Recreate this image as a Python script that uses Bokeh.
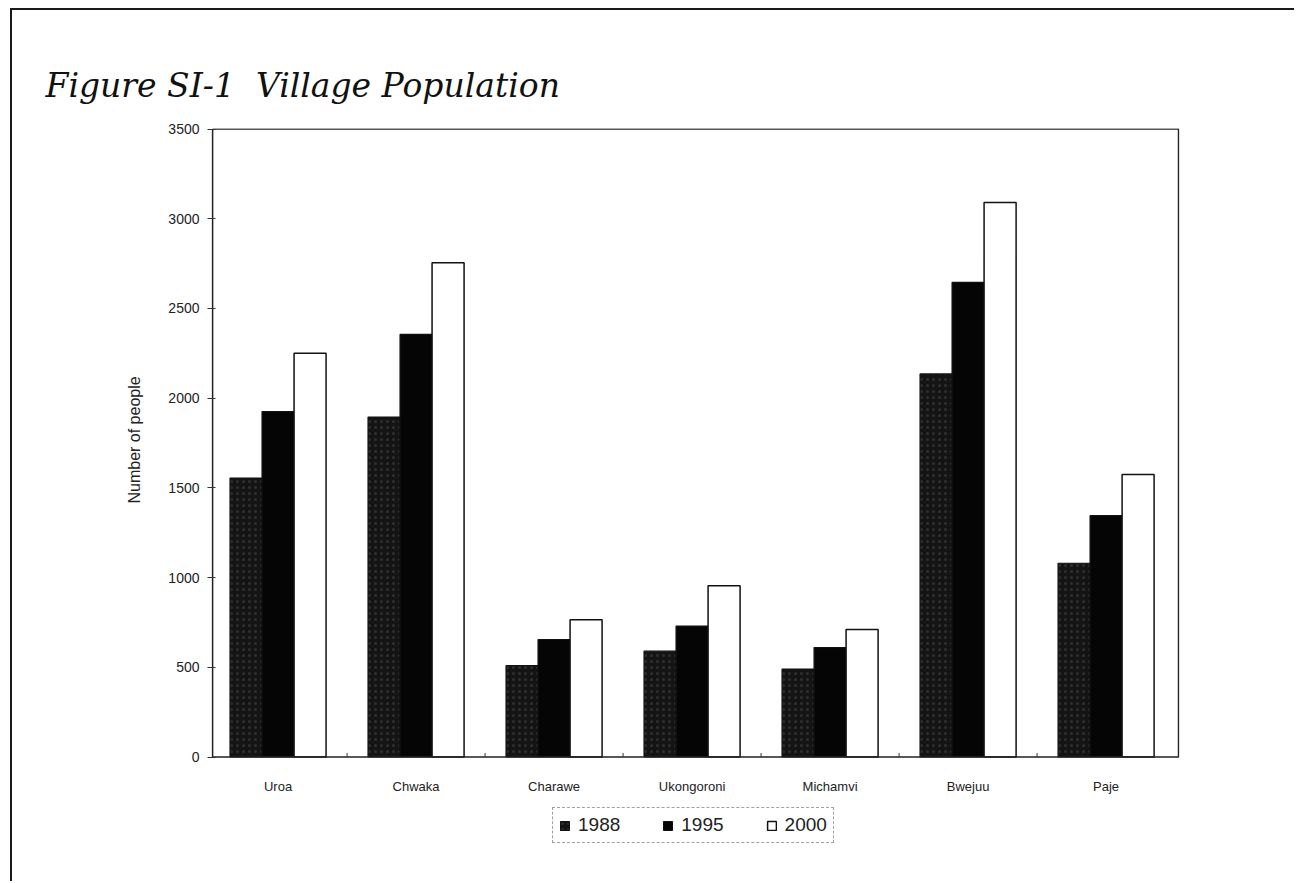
from bokeh.plotting import figure
from bokeh.models import (Range1d, FixedTicker, Legend, LegendItem, ColumnDataSource)
from bokeh.core.properties import value
from bokeh.embed import file_html
from bokeh.resources import INLINE

# Village population counts by survey year
villages = ["Uroa", "Chwaka", "Charawe", "Ukongoroni", "Michamvi", "Bwejuu", "Paje"]
years = ["1988", "1995", "2000"]
pop_1988 = [1555, 1895, 510, 590, 490, 2135, 1080]
pop_1995 = [1925, 2355, 655, 730, 610, 2645, 1345]
pop_2000 = [2250, 2755, 765, 955, 710, 3090, 1575]
y_ticks = [0, 500, 1000, 1500, 2000, 2500, 3000, 3500]

Y_MAX = 3500
X0, X1 = -0.475, 6.525          # edges of the chart box
px_per_unit = 628 / Y_MAX       # vertical scale of the chart box

W, H = 1284, 873
p = figure(width=W, height=H, output_backend="svg", toolbar_location=None,
           x_axis_location=None,
           x_range=Range1d(X0, 6.532), y_range=Range1d(-588, Y_MAX + 3),
           min_border_left=200, min_border_right=117,
           min_border_top=118, min_border_bottom=21)

# page edge lines (left and top) of the scanned sheet
p.styles = {"margin-left": "10px", "margin-top": "8px",
            "border-left": "2px solid #1a1a1a", "border-top": "2px solid #1a1a1a"}

p.background_fill_color = "white"
p.border_fill_color = "white"
p.outline_line_color = None
p.xgrid.visible = False
p.ygrid.visible = False

p.title.text = "Figure SI-1\u00a0\u00a0Village Population"
p.title.text_font = "DejaVu Serif"
p.title.text_font_style = "italic"
p.title.text_font_size = "33px"
p.title.text_color = "#111111"
p.title.align = "left"
p.title.offset = -167
p.title.standoff = 48

idx = list(range(len(villages)))
bw = 0.232
src = ColumnDataSource(dict(
    x88=[i - bw for i in idx], x95=idx, x00=[i + bw for i in idx],
    p88=pop_1988, p95=pop_1995, p00=pop_2000))

r88 = p.vbar(x="x88", top="p88", width=bw, source=src, fill_color="#141414",
             line_color="#111111", line_width=1.2,
             hatch_pattern="dot", hatch_color="#4a4a4a", hatch_scale=6, hatch_alpha=0.5)
r95 = p.vbar(x="x95", top="p95", width=bw, source=src, fill_color="#050505",
             line_color="#111111", line_width=1.2)
r00 = p.vbar(x="x00", top="p00", width=bw, source=src, fill_color="white",
             line_color="#111111", line_width=1.5)

# chart box (baseline, top and right edges)
p.quad(left=[X0], right=[X1], bottom=[0], top=[Y_MAX], fill_color=None,
       line_color="#222222", line_width=1.5)

# small marks between village groups, resting on the baseline
bounds_x = [i + 0.5 for i in idx[:-1]]
p.segment(x0=bounds_x, x1=bounds_x, y0=[0] * len(bounds_x),
          y1=[4 / px_per_unit] * len(bounds_x), line_color="#333333", line_width=1)

# village names under each group
p.text(x=idx, y=[-29 / px_per_unit] * len(idx), text=villages,
       text_align="center", text_baseline="middle",
       text_font=value("Liberation Sans"), text_font_size="13px", text_color="#222222")

ya = p.yaxis[0]
ya.ticker = FixedTicker(ticks=y_ticks)
ya.bounds = (0, Y_MAX)
ya.minor_tick_line_color = None
ya.major_tick_in = 3
ya.major_tick_out = 5
ya.major_tick_line_color = "#333333"
ya.axis_line_color = "#222222"
ya.axis_line_width = 1.3
ya.major_label_standoff = 8
ya.major_label_text_font = "Liberation Sans"
ya.major_label_text_font_size = "14px"
ya.major_label_text_color = "#222222"
# leading no-break spaces lift the title so it centres on the 0-3500 span
ya.axis_label = "\u00a0" * 25 + "Number of people"
ya.axis_label_text_font = "Liberation Sans"
ya.axis_label_text_font_style = "normal"
ya.axis_label_text_font_size = "16px"
ya.axis_label_text_color = "#222222"
ya.axis_label_standoff = 22

legend = Legend(items=[LegendItem(label=years[0], renderers=[r88]),
                       LegendItem(label=years[1], renderers=[r95]),
                       LegendItem(label=years[2], renderers=[r00])],
                orientation="horizontal", location=(340, 19))
legend.label_text_font = "Liberation Sans"
legend.label_text_font_size = "19px"
legend.label_text_color = "#222222"
legend.glyph_width = 11
legend.glyph_height = 11
legend.label_standoff = 8
legend.spacing = 42
legend.padding = 6
legend.margin = 0
legend.border_line_color = "#444444"
legend.border_line_dash = "3 2"
legend.border_line_width = 1
legend.background_fill_color = "white"
p.add_layout(legend)

open("out.html", "w").write(file_html(p, INLINE))
